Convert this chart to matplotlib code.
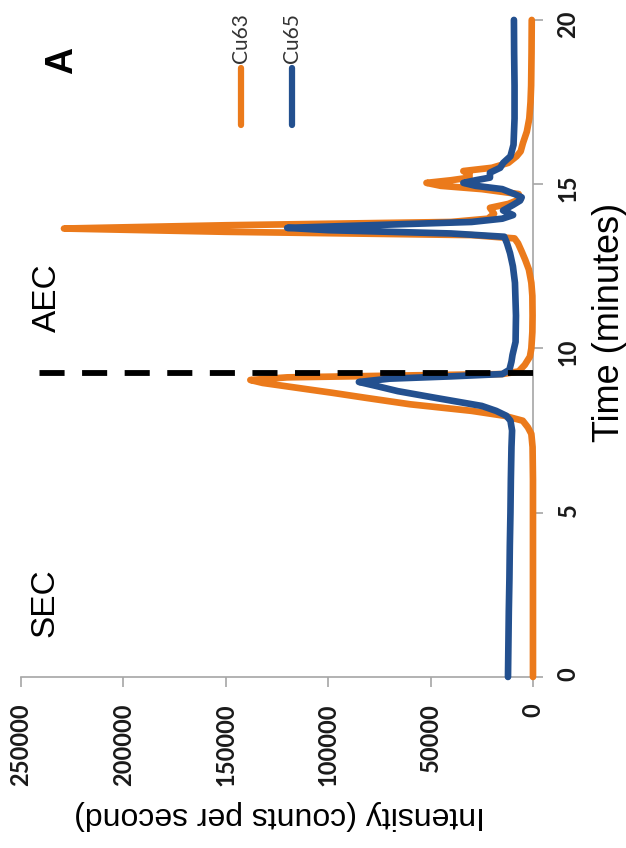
import matplotlib
matplotlib.use("Agg")
import matplotlib.pyplot as plt
from matplotlib.lines import Line2D

# Cu63 trace (time in minutes, counts per second)
cu63_time = [0.0, 1.0, 2.0, 3.0, 4.0, 5.0, 6.0, 7.0, 7.4, 7.6, 7.8, 7.95, 8.1, 8.3,
             8.5, 8.65, 8.8, 8.95, 9.04, 9.12, 9.18, 9.22, 9.3, 9.5, 9.75, 10.0,
             10.5, 11.0, 11.6, 12.0, 12.4, 12.7, 12.95, 13.2, 13.35, 13.45, 13.55,
             13.65, 13.75, 13.85, 13.95, 14.1, 14.28, 14.4, 14.55, 14.7, 14.85,
             14.95, 15.04, 15.12, 15.2, 15.3, 15.4, 15.5, 15.65, 15.85, 16.0,
             16.25, 16.6, 17.0, 17.5, 18.0, 19.0, 20.0]
cu63_counts = [0, 0, 0, 0, 0, 0, 0, 200, 800, 2500, 5000, 14000, 30000, 60000,
               82000, 98000, 115000, 132000, 138000, 120000, 60000, 15000, 7000,
               4000, 1500, 800, 300, 200, 300, 800, 2000, 3800, 5500, 7300, 9000,
               30000, 150000, 229000, 150000, 40000, 22000, 19000, 21000, 12000,
               6000, 7000, 25000, 45000, 52000, 40000, 31000, 31000, 34000, 20000,
               12000, 8000, 6000, 4900, 3000, 1800, 1200, 900, 700, 600]

# Cu65 trace
cu65_time = [0.0, 1.0, 2.0, 3.0, 4.0, 5.0, 6.0, 7.0, 7.5, 7.8, 7.95, 8.1, 8.25,
             8.5, 8.7, 8.85, 8.98, 9.08, 9.15, 9.22, 9.35, 9.6, 9.8, 10.2, 11.0,
             12.0, 12.5, 12.9, 13.2, 13.4, 13.5, 13.6, 13.67, 13.75, 13.85, 13.95,
             14.06, 14.2, 14.37, 14.5, 14.6, 14.7, 14.85, 14.95, 15.04, 15.12,
             15.2, 15.35, 15.5, 15.65, 15.85, 16.2, 17.0, 18.0, 19.0, 20.0]
cu65_counts = [12200, 12000, 11800, 11500, 11300, 11000, 10800, 10500, 10200,
               11000, 13000, 18000, 25000, 48000, 66000, 76000, 85000, 70000,
               40000, 15000, 11500, 10500, 10000, 8500, 8300, 8800, 9800, 11200,
               12700, 14000, 40000, 100000, 120000, 80000, 30000, 15000, 9700,
               14600, 9700, 6300, 5500, 9000, 15000, 28000, 34000, 28000, 21000,
               21000, 16000, 14500, 11000, 9500, 9000, 9000, 9200, 9300]

split_time = 9.25
dash_extent = [0, 242500]

time_ticks = [0, 5, 10, 15, 20]
intensity_ticks = [0, 50000, 100000, 150000, 200000, 250000]

orange = "#EB7A1B"
blue = "#23508F"
grey = "#A6A6A6"

fig = plt.figure(figsize=(6.26, 8.48), dpi=100)
ax = fig.add_axes([0.0335, 0.2017, 0.8179, 0.7748])

# the figure is turned on its side: intensity runs right-to-left, time upward
ax.plot(cu63_counts, cu63_time, color=orange, lw=4.8, solid_capstyle="round",
        clip_on=False, zorder=3)
ax.plot(cu65_counts, cu65_time, color=blue, lw=4.8, solid_capstyle="round",
        clip_on=False, zorder=4)
ax.plot(dash_extent, [split_time, split_time], color="black", lw=4.2,
        linestyle=(0, (4.3, 3.0)), zorder=5)

ax.set_xlim(250000, 0)
ax.set_ylim(0, 20)
ax.set_xticks(intensity_ticks)
ax.set_xticklabels([str(v) for v in intensity_ticks], rotation=90)
ax.set_yticks(time_ticks)
ax.yaxis.tick_right()
ax.set_yticklabels([str(v) for v in time_ticks], rotation=90)

for s in ["left", "top"]:
    ax.spines[s].set_visible(False)
for s in ["right", "bottom"]:
    ax.spines[s].set_color(grey)
    ax.spines[s].set_linewidth(1.2)

ax.tick_params(axis="both", direction="out", length=7, width=1.2, color=grey,
               labelsize=17, labelcolor="#1a1a1a")
ax.tick_params(axis="x", pad=12)
ax.tick_params(axis="y", pad=10)
for lab in ax.get_xticklabels() + ax.get_yticklabels():
    lab.set_fontfamily("Lato")
    lab.set_fontweight("bold")

ax.set_xlabel("Intensity (counts per second)", fontsize=23, rotation=180,
              family="Liberation Sans")
ax.xaxis.set_label_coords(0.505, -0.21)
ax.xaxis.label.set_verticalalignment("center")
ax.yaxis.set_label_position("right")
ax.set_ylabel("Time (minutes)", fontsize=26, family="Liberation Sans")
ax.yaxis.set_label_coords(1.115, 0.54)

ax.text(0.080, 0.939, "A", transform=ax.transAxes, rotation=90, ha="center",
        va="center", fontsize=27, fontweight="bold", family="Liberation Sans")
ax.text(0.051, 0.578, "AEC", transform=ax.transAxes, rotation=90, ha="center",
        va="center", fontsize=24, family="Liberation Sans")
ax.text(0.047, 0.113, "SEC", transform=ax.transAxes, rotation=90, ha="center",
        va="center", fontsize=24, family="Liberation Sans")

# legend drawn by hand, since it is rotated with the rest of the chart
for name, col, xf in [("Cu63", orange, 0.385), ("Cu65", blue, 0.466)]:
    fig.add_artist(Line2D([xf, xf], [0.8526, 0.9198], color=col, lw=4.5,
                          solid_capstyle="round", transform=fig.transFigure))
    fig.text(xf, 0.9257, name, rotation=90, ha="center", va="bottom",
             fontsize=15, family="Lato", color="#333333")

fig.savefig("out.png", dpi=100)
